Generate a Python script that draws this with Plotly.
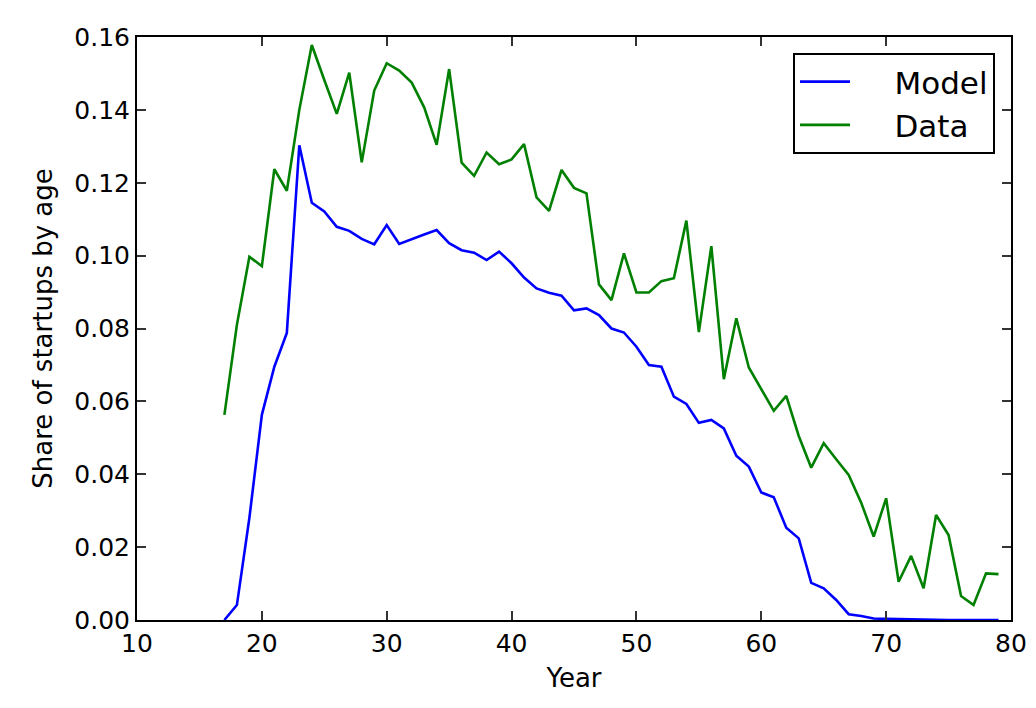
import plotly.graph_objects as go

model_years = list(range(17, 80))
model_share = [0.0, 0.0041, 0.028, 0.0563, 0.0695, 0.0788, 0.1303, 0.1145, 0.1121, 0.1079,
               0.1068, 0.1046, 0.1031, 0.1084, 0.1032, 0.1046, 0.1058, 0.1070, 0.1034, 0.1015,
               0.1008, 0.0988, 0.1011, 0.0979, 0.0940, 0.0910, 0.0898, 0.0890, 0.0850, 0.0855,
               0.0837, 0.0800, 0.0789, 0.0750, 0.0700, 0.0695, 0.0613, 0.0593, 0.0541, 0.0549,
               0.0526, 0.0451, 0.0421, 0.0350, 0.0337, 0.0253, 0.0224, 0.0102, 0.0087, 0.0055,
               0.0016, 0.0011, 0.0004, 0.0003, 0.0002, 0.0001, 0.0001, 0.0, 0.0, 0.0,
               0.0, 0.0, 0.0]

data_years = list(range(17, 80))
data_share = [0.0563, 0.081, 0.0997, 0.0971, 0.1237, 0.1178, 0.1400, 0.1578, 0.1482, 0.1389,
              0.1502, 0.1256, 0.1453, 0.1528, 0.1508, 0.1475, 0.1407, 0.1304, 0.1512, 0.1255,
              0.1219, 0.1283, 0.1251, 0.1264, 0.1306, 0.1160, 0.1123, 0.1235, 0.1186, 0.1171,
              0.0921, 0.0878, 0.1006, 0.0899, 0.0899, 0.0930, 0.0938, 0.1096, 0.0790, 0.1026,
              0.0661, 0.0828, 0.0693, 0.0634, 0.0574, 0.0615, 0.0505, 0.0418, 0.0485, 0.0441,
              0.0398, 0.0322, 0.0229, 0.0334, 0.0105, 0.0176, 0.0087, 0.0288, 0.0233, 0.0066,
              0.0041, 0.0128, 0.0126]

x_ticks = [10, 20, 30, 40, 50, 60, 70, 80]
y_ticks = [0.00, 0.02, 0.04, 0.06, 0.08, 0.10, 0.12, 0.14, 0.16]

FONT = "DejaVu Sans"
PAD = "\u00a0\u00a0\u00a0\u00a0"

fig = go.Figure()
fig.add_trace(go.Scatter(x=model_years, y=model_share, mode="lines", name=PAD + "Model",
                         line=dict(color="#0000ff", width=2.6)))
fig.add_trace(go.Scatter(x=data_years, y=data_share, mode="lines", name=PAD + "Data",
                         line=dict(color="#008000", width=2.6)))

axis_common = dict(
    showgrid=False, zeroline=False, showline=True, linecolor="black", linewidth=2,
    mirror="ticks", ticks="inside", ticklen=9, tickwidth=1.5, tickcolor="#333333",
    tickfont=dict(family=FONT, size=25, color="black"),
)

fig.update_layout(
    width=1036, height=708,
    margin=dict(l=129, r=33, t=29, b=96),
    paper_bgcolor="white", plot_bgcolor="white",
    font=dict(family=FONT, size=24, color="black"),
    xaxis=dict(range=[10, 80], tickvals=x_ticks, ticktext=[str(v) for v in x_ticks],
               title=dict(text="Year", font=dict(family=FONT, size=26), standoff=12),
               ticklabelstandoff=0, **axis_common),
    yaxis=dict(range=[0, 0.16], tickvals=y_ticks, ticktext=[f"{v:.2f}" for v in y_ticks],
               title=dict(text="Share of startups by age", font=dict(family=FONT, size=26), standoff=14),
               ticklabelstandoff=0, **axis_common),
    legend=dict(x=0.9817, y=0.9726, xanchor="right", yanchor="top",
                bordercolor="black", borderwidth=2, bgcolor="white",
                font=dict(family=FONT, size=31), itemwidth=50,
                tracegroupgap=0),
    showlegend=True,
)

fig.write_html("out.html")
